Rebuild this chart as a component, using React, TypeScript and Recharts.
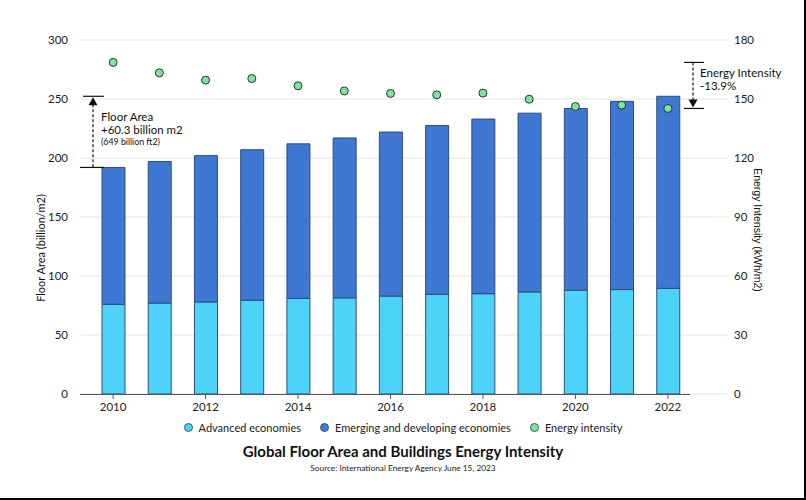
import React from 'react';
import { ComposedChart, Bar, Scatter, XAxis, YAxis, CartesianGrid } from 'recharts';

const years = ['2010', '2011', '2012', '2013', '2014', '2015', '2016', '2017', '2018', '2019', '2020', '2021', '2022'];
const advancedEconomies = [76, 77, 78, 79.5, 81, 81.5, 83, 84.5, 85, 86.5, 88, 88.5, 89.5];
const emergingEconomies = [116, 120, 124, 127.5, 131, 135.5, 139, 143, 148, 151.5, 154, 159.5, 162.8];
const energyIntensity = [168.6, 163.3, 159.6, 160.4, 156.7, 154.1, 152.8, 152.1, 153.0, 149.9, 146.2, 146.9, 145.2];

const floorTicks = [0, 50, 100, 150, 200, 250, 300];
const intensityTicks = [0, 30, 60, 90, 120, 150, 180];

const seriesNames = ['Advanced economies', 'Emerging and developing economies', 'Energy intensity'];
const seriesColors = ['#4dd3f8', '#3e78d2', '#7fe3a0'];

const data = years.map((year, i) => ({
  year,
  advanced: advancedEconomies[i],
  emerging: emergingEconomies[i],
  intensity: energyIntensity[i],
}));

// plot box, used by the annotation overlay
const PLOT_TOP = 40;
const PLOT_BOTTOM = 394;
const yLeft = (v: number) => PLOT_BOTTOM - (v / 300) * (PLOT_BOTTOM - PLOT_TOP);
const yRight = (v: number) => PLOT_BOTTOM - (v / 180) * (PLOT_BOTTOM - PLOT_TOP);

const FONT = 'Lato, "Open Sans", sans-serif';

const Dot = (props: any) => {
  const { cx, cy } = props;
  if (cx == null || cy == null) return null;
  return <circle cx={cx} cy={cy} r={4} fill={seriesColors[2]} stroke="#1f3b2b" strokeWidth={1} />;
};

const Annotations: React.FC = () => {
  const floorStart = advancedEconomies[0] + emergingEconomies[0];
  const last = years.length - 1;
  const floorEnd = advancedEconomies[last] + emergingEconomies[last];
  const fTop = yLeft(floorEnd);
  const fBot = yLeft(floorStart);
  const eTop = yRight(energyIntensity[0]);
  const eBot = yRight(energyIntensity[last]);

  return (
    <svg width={806} height={500} style={{ position: 'absolute', left: 0, top: 0, pointerEvents: 'none' }}>
      {/* x baseline stops short of the right gridline ends */}
      <line x1={80} x2={690} y1={PLOT_BOTTOM + 0.5} y2={PLOT_BOTTOM + 0.5} stroke="#555" strokeWidth={1} />

      {/* floor area bracket */}
      <line x1={83} x2={104} y1={fTop} y2={fTop} stroke="#111" strokeWidth={1.2} />
      <line x1={80} x2={104} y1={fBot} y2={fBot} stroke="#111" strokeWidth={1.2} />
      <line x1={93} x2={93} y1={fTop + 8} y2={fBot} stroke="#111" strokeWidth={1.2} strokeDasharray="3 2" />
      <path d={`M93 ${fTop + 1} L88.5 ${fTop + 9} L97.5 ${fTop + 9} Z`} fill="#111" />
      <text x={101} y={121} fontSize={11.5} fill="#111" fontFamily={FONT}>Floor Area</text>
      <text x={101} y={134} fontSize={11.5} fill="#111" fontFamily={FONT}>+60.3 billion m2</text>
      <text x={101} y={144.5} fontSize={8.8} fill="#111" fontFamily={FONT}>(649 billion ft2)</text>

      {/* energy intensity bracket */}
      <line x1={684} x2={704} y1={eTop} y2={eTop} stroke="#111" strokeWidth={1.2} />
      <line x1={684} x2={704} y1={eBot} y2={eBot} stroke="#111" strokeWidth={1.2} />
      <line x1={693} x2={693} y1={eTop} y2={eBot - 8} stroke="#111" strokeWidth={1.2} strokeDasharray="3 2" />
      <path d={`M693 ${eBot - 1} L688.5 ${eBot - 9} L697.5 ${eBot - 9} Z`} fill="#111" />
      <text x={700} y={77} fontSize={11.5} fill="#111" fontFamily={FONT}>Energy Intensity</text>
      <text x={700} y={90} fontSize={11.5} fill="#111" fontFamily={FONT}>-13.9%</text>

      {/* axis titles */}
      <text
        x={40}
        y={248}
        fontSize={11}
        fill="#111"
        fontFamily={FONT}
        textAnchor="middle"
        dominantBaseline="central"
        transform="rotate(-90 40 248)"
      >
        Floor Area (billion/m2)
      </text>
      <text
        x={758}
        y={230}
        fontSize={10.5}
        fill="#111"
        fontFamily='"Liberation Sans", Arial, sans-serif'
        textAnchor="middle"
        dominantBaseline="central"
        transform="rotate(90 758 230)"
      >
        Energy Intensity (kWh/m2)
      </text>
    </svg>
  );
};

const App: React.FC = () => {
  return (
    <div
      style={{
        position: 'absolute',
        left: 0,
        top: 0,
        width: 806,
        height: 500,
        background: '#fff',
        fontFamily: FONT,
        boxSizing: 'border-box',
        borderRight: '2px solid #000',
        borderBottom: '2px solid #000',
      }}
    >
      <ComposedChart
        width={806}
        height={500}
        data={data}
        margin={{ top: PLOT_TOP, right: 18, bottom: 76, left: 20 }}
      >
        <CartesianGrid yAxisId="left" vertical={false} stroke="#e4e4e4" />
        <XAxis
          dataKey="year"
          interval={1}
          height={30}
          padding={{ left: 10, right: 37 }}
          axisLine={false}
          tickLine={{ stroke: '#555' }}
          tickSize={5}
          tickMargin={4}
          tick={{ fill: '#222', fontSize: 11.5, fontFamily: FONT }}
        />
        <YAxis
          yAxisId="left"
          orientation="left"
          width={60}
          domain={[0, 300]}
          ticks={floorTicks}
          axisLine={false}
          tickLine={false}
          tickMargin={6}
          tick={{ fill: '#222', fontSize: 11.5, fontFamily: FONT }}
        />
        <YAxis
          yAxisId="right"
          orientation="right"
          width={60}
          domain={[0, 180]}
          ticks={intensityTicks}
          axisLine={false}
          tickLine={false}
          tickMargin={0}
          tick={{ fill: '#222', fontSize: 11.5, fontFamily: FONT }}
        />
        <Bar
          yAxisId="left"
          dataKey="advanced"
          name={seriesNames[0]}
          stackId="floor"
          barSize={23}
          fill={seriesColors[0]}
          stroke="#2d5078"
          strokeWidth={1}
          isAnimationActive={false}
        />
        <Bar
          yAxisId="left"
          dataKey="emerging"
          name={seriesNames[1]}
          stackId="floor"
          barSize={23}
          fill={seriesColors[1]}
          stroke="#2d4d80"
          strokeWidth={1}
          isAnimationActive={false}
        />
        <Scatter
          yAxisId="right"
          dataKey="intensity"
          name={seriesNames[2]}
          fill={seriesColors[2]}
          shape={<Dot />}
          isAnimationActive={false}
        />
      </ComposedChart>

      <Annotations />

      {/* legend */}
      <div
        style={{
          position: 'absolute',
          top: 421,
          left: 0,
          width: 806,
          display: 'flex',
          justifyContent: 'center',
          gap: 19,
          fontSize: 11,
          color: '#222',
        }}
      >
        {seriesNames.map((name, i) => (
          <div key={name} style={{ display: 'flex', alignItems: 'center', gap: 6 }}>
            <span
              style={{
                display: 'inline-block',
                width: 7,
                height: 7,
                borderRadius: '50%',
                background: seriesColors[i],
                border: '1px solid #3a5a6a',
              }}
            />
            <span>{name}</span>
          </div>
        ))}
      </div>

      <div
        style={{
          position: 'absolute',
          top: 442,
          left: 0,
          width: 806,
          textAlign: 'center',
          fontSize: 15,
          fontWeight: 700,
          color: '#111',
        }}
      >
        Global Floor Area and Buildings Energy Intensity
      </div>
      <div
        style={{
          position: 'absolute',
          top: 463,
          left: 0,
          width: 806,
          textAlign: 'center',
          fontSize: 8.3,
          color: '#222',
        }}
      >
        Source: International Energy Agency June 15, 2023
      </div>
    </div>
  );
};

export default App;
